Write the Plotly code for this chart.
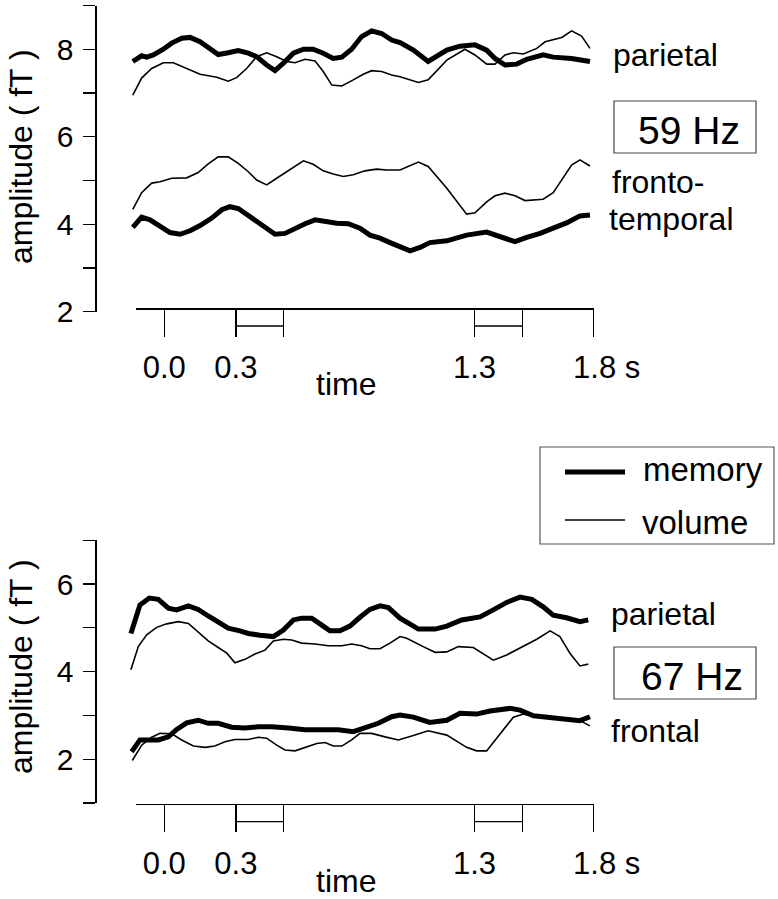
import plotly.graph_objects as go

# ---------------- data (time in s, amplitude in fT) ----------------
# 59 Hz, parietal
t_59_par_mem = [-0.132, -0.095, -0.074, -0.046, -0.004, 0.031, 0.073, 0.108, 0.150, 0.192, 0.226, 0.268, 0.310,
                0.352, 0.387, 0.429, 0.464, 0.499, 0.541, 0.583, 0.624, 0.666, 0.708, 0.744, 0.785, 0.827, 0.869,
                0.911, 0.953, 0.988, 1.044, 1.106, 1.184, 1.239, 1.302, 1.351, 1.386, 1.428, 1.477, 1.519, 1.588,
                1.630, 1.707, 1.784]
a_59_par_mem = [7.72, 7.85, 7.82, 7.87, 8.00, 8.14, 8.25, 8.27, 8.17, 8.00, 7.88, 7.92, 7.97, 7.91, 7.83, 7.64,
                7.51, 7.68, 7.91, 8.00, 8.00, 7.91, 7.79, 7.82, 8.00, 8.29, 8.42, 8.36, 8.21, 8.15, 7.98, 7.72,
                7.98, 8.07, 8.10, 7.98, 7.79, 7.64, 7.66, 7.77, 7.87, 7.82, 7.79, 7.72]
t_59_par_vol = [-0.132, -0.095, -0.053, -0.004, 0.038, 0.108, 0.150, 0.220, 0.268, 0.303, 0.345, 0.387, 0.429,
                0.471, 0.513, 0.548, 0.590, 0.632, 0.666, 0.702, 0.744, 0.792, 0.834, 0.869, 0.911, 0.953, 0.988,
                1.065, 1.106, 1.184, 1.260, 1.302, 1.351, 1.386, 1.428, 1.463, 1.505, 1.561, 1.596, 1.666, 1.707,
                1.749, 1.784]
a_59_par_vol = [6.95, 7.34, 7.56, 7.69, 7.69, 7.53, 7.43, 7.36, 7.27, 7.35, 7.56, 7.83, 7.92, 7.83, 7.72, 7.69,
                7.77, 7.73, 7.49, 7.18, 7.16, 7.30, 7.43, 7.51, 7.49, 7.41, 7.37, 7.24, 7.30, 7.75, 8.00, 7.87,
                7.66, 7.66, 7.87, 7.92, 7.89, 8.02, 8.17, 8.27, 8.42, 8.30, 8.02]
# 59 Hz, fronto-temporal
t_59_ft_mem = [-0.132, -0.095, -0.060, -0.018, 0.024, 0.066, 0.108, 0.150, 0.199, 0.241, 0.275, 0.310, 0.359,
               0.415, 0.464, 0.506, 0.548, 0.590, 0.632, 0.674, 0.723, 0.771, 0.820, 0.862, 0.904, 0.946, 0.988,
               1.030, 1.072, 1.113, 1.184, 1.267, 1.351, 1.407, 1.470, 1.519, 1.575, 1.630, 1.686, 1.742, 1.784]
a_59_ft_mem = [3.93, 4.16, 4.10, 3.94, 3.81, 3.77, 3.85, 3.97, 4.14, 4.33, 4.40, 4.36, 4.17, 3.94, 3.77, 3.79,
               3.91, 4.01, 4.10, 4.06, 4.02, 4.01, 3.91, 3.75, 3.68, 3.58, 3.49, 3.39, 3.47, 3.58, 3.62, 3.75,
               3.82, 3.71, 3.60, 3.70, 3.79, 3.91, 4.03, 4.19, 4.21]
t_59_ft_vol = [-0.132, -0.095, -0.053, -0.018, 0.031, 0.094, 0.142, 0.184, 0.226, 0.268, 0.310, 0.352, 0.387,
               0.429, 0.471, 0.527, 0.583, 0.624, 0.666, 0.708, 0.750, 0.792, 0.841, 0.890, 0.932, 0.988, 1.065,
               1.106, 1.184, 1.267, 1.302, 1.351, 1.386, 1.428, 1.470, 1.512, 1.588, 1.630, 1.672, 1.707, 1.742,
               1.784]
a_59_ft_vol = [4.34, 4.72, 4.94, 4.97, 5.05, 5.06, 5.18, 5.38, 5.54, 5.54, 5.39, 5.20, 5.01, 4.90, 5.05, 5.24,
               5.45, 5.37, 5.22, 5.15, 5.09, 5.13, 5.22, 5.26, 5.24, 5.24, 5.42, 5.32, 4.82, 4.23, 4.26, 4.51,
               4.65, 4.71, 4.65, 4.54, 4.57, 4.72, 5.05, 5.35, 5.47, 5.33]
# 67 Hz, parietal
t_67_par_mem = [-0.140, -0.102, -0.063, -0.025, 0.017, 0.052, 0.101, 0.142, 0.184, 0.226, 0.268, 0.317, 0.352,
                0.401, 0.457, 0.499, 0.541, 0.576, 0.618, 0.660, 0.694, 0.736, 0.778, 0.820, 0.862, 0.904, 0.939,
                0.988, 1.016, 1.065, 1.135, 1.184, 1.246, 1.323, 1.379, 1.435, 1.491, 1.540, 1.588, 1.630, 1.686,
                1.742, 1.777]
a_67_par_mem = [4.87, 5.52, 5.68, 5.65, 5.45, 5.41, 5.50, 5.42, 5.27, 5.12, 4.99, 4.93, 4.87, 4.83, 4.80, 4.95,
                5.18, 5.22, 5.22, 5.06, 4.93, 4.93, 5.04, 5.24, 5.42, 5.50, 5.46, 5.22, 5.14, 4.97, 4.97, 5.04,
                5.18, 5.25, 5.41, 5.58, 5.70, 5.65, 5.48, 5.29, 5.23, 5.14, 5.18]
t_67_par_vol = [-0.140, -0.109, -0.074, -0.032, 0.010, 0.059, 0.101, 0.142, 0.184, 0.226, 0.262, 0.296, 0.338,
                0.380, 0.422, 0.457, 0.499, 0.534, 0.576, 0.632, 0.687, 0.744, 0.785, 0.827, 0.862, 0.904, 0.946,
                0.988, 1.016, 1.085, 1.135, 1.184, 1.232, 1.295, 1.337, 1.379, 1.435, 1.505, 1.561, 1.617, 1.658,
                1.700, 1.742, 1.777]
a_67_par_vol = [4.04, 4.57, 4.84, 5.01, 5.09, 5.14, 5.10, 4.91, 4.70, 4.55, 4.42, 4.20, 4.28, 4.40, 4.49, 4.70,
                4.74, 4.72, 4.65, 4.63, 4.59, 4.59, 4.63, 4.59, 4.52, 4.52, 4.65, 4.80, 4.76, 4.57, 4.44, 4.45,
                4.57, 4.55, 4.40, 4.26, 4.38, 4.57, 4.74, 4.93, 4.80, 4.42, 4.13, 4.17]
# 67 Hz, frontal
t_67_fr_mem = [-0.137, -0.102, -0.060, -0.025, 0.017, 0.052, 0.094, 0.142, 0.184, 0.226, 0.282, 0.338, 0.394,
               0.450, 0.520, 0.590, 0.660, 0.729, 0.792, 0.841, 0.897, 0.953, 0.988, 1.044, 1.113, 1.184, 1.239,
               1.309, 1.365, 1.449, 1.491, 1.547, 1.617, 1.686, 1.742, 1.784]
a_67_fr_mem = [2.17, 2.44, 2.44, 2.44, 2.51, 2.68, 2.83, 2.89, 2.82, 2.82, 2.73, 2.71, 2.74, 2.74, 2.71, 2.67,
               2.67, 2.67, 2.63, 2.71, 2.82, 2.97, 3.01, 2.96, 2.84, 2.89, 3.05, 3.03, 3.10, 3.16, 3.12, 2.99,
               2.95, 2.93, 2.88, 2.97]
t_67_fr_vol = [-0.134, -0.095, -0.053, -0.018, 0.031, 0.073, 0.122, 0.171, 0.212, 0.254, 0.296, 0.352, 0.394,
               0.429, 0.471, 0.506, 0.548, 0.597, 0.639, 0.674, 0.708, 0.744, 0.785, 0.820, 0.869, 0.925, 0.981,
               1.044, 1.106, 1.184, 1.267, 1.309, 1.351, 1.393, 1.463, 1.505, 1.561, 1.630, 1.700, 1.742, 1.784]
a_67_fr_vol = [1.97, 2.32, 2.50, 2.59, 2.58, 2.44, 2.30, 2.27, 2.30, 2.40, 2.45, 2.45, 2.50, 2.48, 2.32, 2.21,
               2.19, 2.29, 2.36, 2.38, 2.30, 2.30, 2.44, 2.59, 2.59, 2.51, 2.44, 2.54, 2.65, 2.55, 2.27, 2.19,
               2.19, 2.48, 2.96, 3.03, 2.99, 2.96, 2.93, 2.88, 2.76]

time_tickvals = [0.0, 0.3, 0.5, 1.3, 1.5, 1.8]
time_ticktext = ["0.0", "0.3", "", "1.3", "", "\u00a0\u00a0\u00a01.8 s"]
windows = [(0.3, 0.5), (1.3, 1.5)]
top_yticks = [2, 3, 4, 5, 6, 7, 8, 9]
top_ylabels = ["2", "", "4", "", "6", "", "8", ""]
bot_yticks = [1, 2, 3, 4, 5, 6, 7]
bot_ylabels = ["", "2", "", "4", "", "6", ""]

# ---------------- layout helpers (pixel geometry) ----------------
W, H = 778, 899
FONT = "Liberation Sans, Arial, Helvetica, sans-serif"
X0, SX = 164.3, 238.6      # pixel of t=0 and pixels per second


def fx(p):
    return p / W


def fy(p):
    return 1 - p / H


def t_at(p):
    return (p - X0) / SX


THICK, THIN = 5, 1.6

fig = go.Figure()


def add(t, a, xa, ya, width):
    fig.add_trace(go.Scatter(x=t, y=a, xaxis=xa, yaxis=ya, mode="lines",
                             line=dict(color="black", width=width, shape="linear"),
                             showlegend=False, hoverinfo="skip"))


add(t_59_par_vol, a_59_par_vol, "x", "y", THIN)
add(t_59_ft_vol, a_59_ft_vol, "x", "y", THIN)
add(t_59_par_mem, a_59_par_mem, "x", "y", THICK)
add(t_59_ft_mem, a_59_ft_mem, "x", "y", THICK)
add(t_67_par_vol, a_67_par_vol, "x3", "y2", THIN)
add(t_67_fr_vol, a_67_fr_vol, "x3", "y2", THIN)
add(t_67_par_mem, a_67_par_mem, "x3", "y2", THICK)
add(t_67_fr_mem, a_67_fr_mem, "x3", "y2", THICK)
# hidden traces so the time axes exist
fig.add_trace(go.Scatter(x=[None], y=[None], xaxis="x2", yaxis="y", showlegend=False, hoverinfo="skip"))
fig.add_trace(go.Scatter(x=[None], y=[None], xaxis="x4", yaxis="y2", showlegend=False, hoverinfo="skip"))

data_x = dict(domain=[fx(96.7), fx(600)], range=[t_at(96.7), t_at(600)], visible=False, automargin=False)
yax = dict(showline=True, linecolor="black", linewidth=1.3, ticks="outside", ticklen=12, tickwidth=1.3,
           tickcolor="black", showgrid=False, zeroline=False, tickfont=dict(size=30, color="black", family=FONT),
           ticklabelstandoff=4, automargin=False)
tax = dict(range=[t_at(136), 1.8], domain=[fx(136), fx(X0 + SX * 1.8)], anchor="free",
           showline=True, linecolor="black", linewidth=1.3, ticks="outside", ticklen=27, tickwidth=1.3,
           tickcolor="black", showgrid=False, zeroline=False, tickvals=time_tickvals, ticktext=time_ticktext,
           tickfont=dict(size=31, color="black", family=FONT), ticklabelstandoff=4, automargin=False)

fig.update_layout(
    template="none",
    width=W, height=H, autosize=False, margin=dict(l=0, r=0, t=0, b=0, pad=0, autoexpand=False),
    paper_bgcolor="white", plot_bgcolor="rgba(0,0,0,0)", showlegend=False,
    font=dict(family=FONT, color="black"),
    xaxis=dict(anchor="y", **data_x),
    yaxis=dict(domain=[fy(311.7), fy(5.5)], range=[2, 9], anchor="x", tickvals=top_yticks,
               ticktext=top_ylabels, **yax),
    xaxis2=dict(position=fy(308.3), **tax),
    xaxis3=dict(anchor="y2", **data_x),
    yaxis2=dict(domain=[fy(803), fy(540.2)], range=[1, 7], anchor="x3", tickvals=bot_yticks,
                ticktext=bot_ylabels, **yax),
    xaxis4=dict(position=fy(804), **tax),
)

shapes = []
for (xr, ybar) in (("x2", 326), ("x4", 821.7)):
    for (w0, w1) in windows:
        shapes.append(dict(type="line", xref=xr, yref="paper", x0=w0, x1=w1, y0=fy(ybar), y1=fy(ybar),
                           line=dict(color="black", width=1.3)))
# frequency boxes
for (y0, y1) in ((101, 153), (647, 699)):
    shapes.append(dict(type="rect", xref="paper", yref="paper", x0=fx(614), x1=fx(756), y0=fy(y1), y1=fy(y0),
                       line=dict(color="#444", width=1.2)))
# legend box and samples
shapes.append(dict(type="rect", xref="paper", yref="paper", x0=fx(540), x1=fx(774), y0=fy(544), y1=fy(447),
                   line=dict(color="#555", width=1.2)))
shapes.append(dict(type="line", xref="paper", yref="paper", x0=fx(565), x1=fx(625), y0=fy(472), y1=fy(472),
                   line=dict(color="black", width=THICK)))
shapes.append(dict(type="line", xref="paper", yref="paper", x0=fx(565), x1=fx(625), y0=fy(520), y1=fy(520),
                   line=dict(color="black", width=THIN)))
fig.update_layout(shapes=shapes)


def ann(text, x, y, size=32, xanchor="left", angle=0):
    fig.add_annotation(text=text, x=fx(x), y=fy(y), xref="paper", yref="paper", showarrow=False,
                       xanchor=xanchor, yanchor="middle", textangle=angle,
                       font=dict(size=size, color="black", family=FONT))


ann("amplitude ( fT )", 21, 157, angle=-90, xanchor="center")
ann("amplitude ( fT )", 21, 667, angle=-90, xanchor="center")
ann("time", 346, 384, xanchor="center")
ann("time", 346, 881, xanchor="center")
ann("parietal", 611, 55)
ann("fronto-", 610, 182)
ann("temporal", 607, 219)
ann("parietal", 609, 614)
ann("frontal", 609, 731)
ann("59 Hz", 688.7, 130, size=39, xanchor="center")
ann("67 Hz", 691.5, 676, size=39, xanchor="center")
ann("memory", 641, 470, size=33)
ann("volume", 640, 522, size=33)

fig.write_html("out.html", config={"displayModeBar": False, "staticPlot": True},
               post_script="document.body.style.margin='0px';document.body.style.overflow='hidden';")
